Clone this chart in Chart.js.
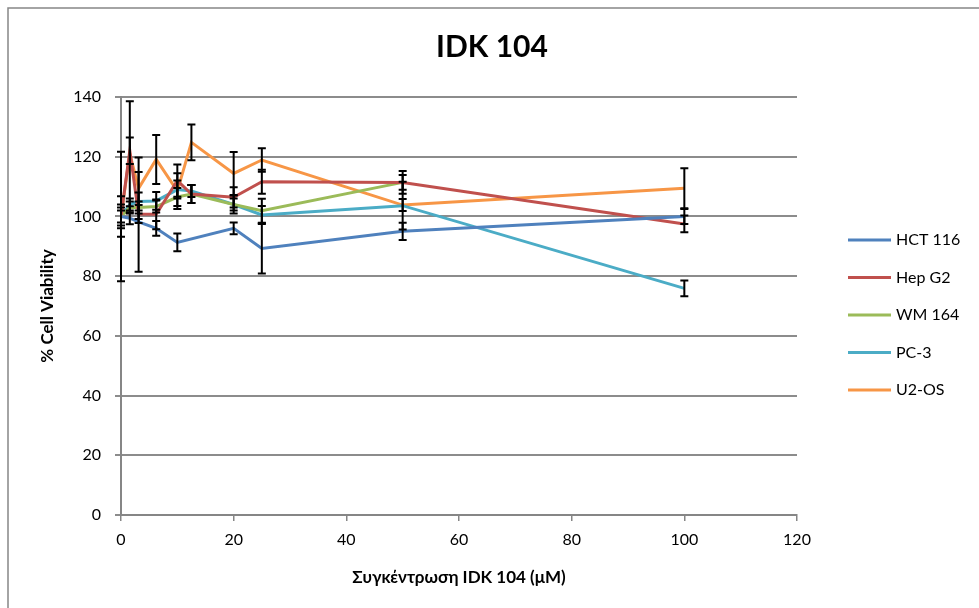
<!DOCTYPE html>
<html>
<head>
<meta charset="utf-8">
<script src="https://cdn.jsdelivr.net/npm/chart.js@4.4.0/dist/chart.umd.min.js"></script>
<style>
  html, body { margin: 0; padding: 0; background: #fff; }
  #wrap { width: 979px; height: 608px; position: relative; }
</style>
</head>
<body>
<div id="wrap"><canvas id="myChart" width="979" height="608"></canvas></div>
<script>
// concentrations (µM)
const conc = [0, 1.5625, 3.125, 6.25, 10, 12.5, 20, 25, 50, 100];
const seriesNames = ['HCT 116', 'Hep G2', 'WM 164', 'PC-3', 'U2-OS'];
const seriesColors = ['#4F81BD', '#C0504D', '#9BBB59', '#4BACC6', '#F79646'];

const hct116 = [100, 99.4, 98.2, 96, 91.3, null, 96, 89.3, 95, 100];
const hct116Err = [21.7, 2, 16.7, 2.5, 3, null, 2, 8.4, 2.9, 2.5];
const hepG2 = [100, 122, 100.8, 100.7, 112, 107.5, 106.4, 111.6, 111.4, 97.5];
const hepG2Err = [3, 4.4, 3, 5, 5.4, 3, 3.4, 4, 2.5, 2.8];
const wm164 = [100, 103, 103, 103.3, 106.5, 107.5, 104, 101.9, 111.4, null];
const wm164Err = [2, 2, 2, 2, 3, 3, 3, 4, 3.8, null];
const pc3 = [100, 104, 105, 105.2, 109, 108.5, 104, 100.5, 103.6, 75.9];
const pc3Err = [4, 2, 3, 3, 3, 2, 2, 3, 8, 2.6];
const u2os = [100, 121, 109.4, 119.1, 108.5, 124.8, 114.4, 118.9, 103.8, 109.4];
const u2osErr = [6.8, 17.6, 10.3, 8.2, 6, 6, 7.2, 3.9, 2, 6.7];

const yTicks = [0, 20, 40, 60, 80, 100, 120, 140];
const xTicks = [0, 20, 40, 60, 80, 100, 120];

const values = [hct116, hepG2, wm164, pc3, u2os];
const errors = [hct116Err, hepG2Err, wm164Err, pc3Err, u2osErr];

const FONT = 'Lato, "Open Sans", sans-serif';

const errorBars = {
  id: 'errorBars',
  afterDatasetsDraw(chart) {
    const ctx = chart.ctx;
    const xs = chart.scales.x, ys = chart.scales.y;
    ctx.save();
    ctx.strokeStyle = '#000';
    ctx.lineWidth = 2;
    values.forEach((vals, i) => {
      vals.forEach((v, j) => {
        const e = errors[i][j];
        if (v == null || e == null) return;
        const px = xs.getPixelForValue(conc[j]);
        const top = ys.getPixelForValue(v + e);
        const bot = ys.getPixelForValue(v - e);
        ctx.beginPath();
        ctx.moveTo(px, top); ctx.lineTo(px, bot);
        ctx.moveTo(px - 4, top); ctx.lineTo(px + 4, top);
        ctx.moveTo(px - 4, bot); ctx.lineTo(px + 4, bot);
        ctx.stroke();
      });
    });
    ctx.restore();
  }
};

// frame, title and the legend on the right
const decorations = {
  id: 'decorations',
  beforeDraw(chart) {
    const ctx = chart.ctx;
    ctx.save();
    ctx.fillStyle = '#fff';
    ctx.fillRect(0, 0, chart.width, chart.height);
    ctx.strokeStyle = '#868686';
    ctx.lineWidth = 1.5;
    ctx.strokeRect(8, 8, 1200, 900);
    ctx.restore();
  },
  afterDraw(chart) {
    const ctx = chart.ctx;
    ctx.save();
    ctx.fillStyle = '#000';
    ctx.textAlign = 'center';
    ctx.textBaseline = 'middle';
    ctx.font = 'bold 30px ' + FONT;
    ctx.fillText('IDK 104', 492, 47);

    ctx.textAlign = 'left';
    ctx.font = '16px ' + FONT;
    seriesNames.forEach((name, i) => {
      const y = 240 + i * 37.5;
      ctx.strokeStyle = seriesColors[i];
      ctx.lineWidth = 3;
      ctx.beginPath();
      ctx.moveTo(848, y); ctx.lineTo(891, y);
      ctx.stroke();
      ctx.fillText(name, 896, y);
    });
    ctx.restore();
  }
};

new Chart(document.getElementById('myChart').getContext('2d'), {
  type: 'line',
  data: {
    datasets: values.map((vals, i) => ({
      label: seriesNames[i],
      data: conc.map((c, j) => ({ x: c, y: vals[j] })),
      borderColor: seriesColors[i],
      backgroundColor: seriesColors[i],
      borderWidth: 3,
      pointRadius: 0,
      tension: 0,
      spanGaps: true,
      fill: false
    }))
  },
  options: {
    responsive: false,
    animation: false,
    layout: { padding: { left: 0, top: 97, right: 182, bottom: 0 } },
    plugins: {
      legend: { display: false },
      tooltip: { enabled: false },
      title: { display: false }
    },
    scales: {
      x: {
        type: 'linear',
        min: 0, max: 120,
        afterBuildTicks: s => { s.ticks = xTicks.map(v => ({ value: v })); },
        afterFit: s => { s.height = 93; },
        ticks: { color: '#000', font: { family: FONT, size: 16 }, padding: 9, maxRotation: 0 },
        grid: { drawOnChartArea: false, drawTicks: true, tickLength: 6, color: '#868686', lineWidth: 1.5 },
        border: { color: '#868686', width: 2 },
        title: {
          display: true,
          text: 'Συγκέντρωση IDK 104 (μM)',
          color: '#000',
          font: { family: FONT, size: 17, weight: 'bold' },
          padding: { bottom: 20 }
        }
      },
      y: {
        min: 0, max: 140,
        afterBuildTicks: s => { s.ticks = yTicks.map(v => ({ value: v })); },
        afterFit: s => { s.width = 121; },
        ticks: { color: '#000', font: { family: FONT, size: 16 }, padding: 14 },
        grid: { color: '#8c8c8c', lineWidth: 2, tickLength: 6 },
        border: { color: '#868686', width: 2 },
        title: {
          display: true,
          text: '% Cell Viability',
          color: '#000',
          font: { family: FONT, size: 17, weight: 'bold' },
          padding: { top: 37 }
        }
      }
    }
  },
  plugins: [errorBars, decorations]
});
</script>
</body>
</html>
